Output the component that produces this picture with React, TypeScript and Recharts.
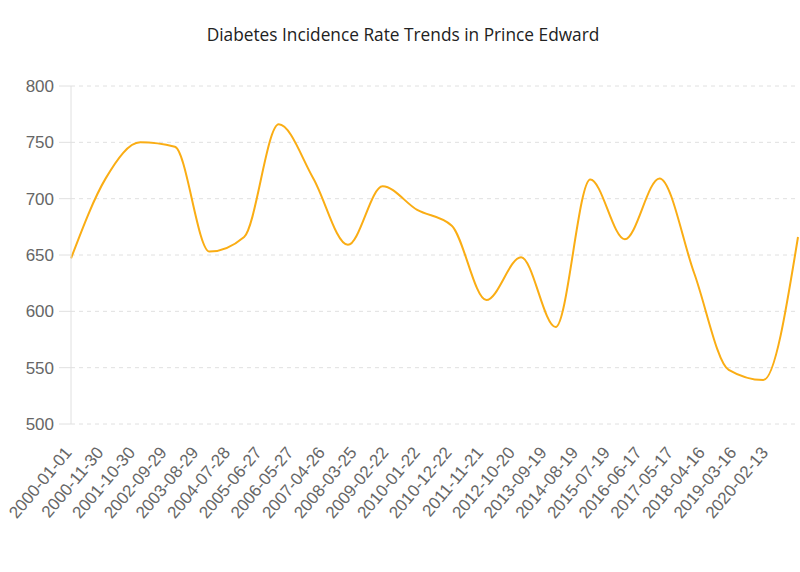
import React from 'react';
import { LineChart, Line, XAxis, YAxis, CartesianGrid } from 'recharts';

// yearly observations
const years = [
    '2000-01-01', '2001-01-01', '2002-01-01', '2003-01-01', '2004-01-01', '2005-01-01',
    '2006-01-01', '2007-01-01', '2008-01-01', '2009-01-01', '2010-01-01', '2011-01-01',
    '2012-01-01', '2013-01-01', '2014-01-01', '2015-01-01', '2016-01-01', '2017-01-01',
    '2018-01-01', '2019-01-01', '2020-01-01', '2021-01-01',
];

const incidence = [
    647, 718, 750, 746, 653, 666, 766, 718, 659, 711, 690,
    676, 610, 648, 586, 717, 664, 718, 634, 548, 539, 666,
];

// axis labels sit on a fixed 334-day step, not on the data points
const dateTicks = [
    '2000-01-01', '2000-11-30', '2001-10-30', '2002-09-29', '2003-08-29', '2004-07-28',
    '2005-06-27', '2006-05-27', '2007-04-26', '2008-03-25', '2009-02-22', '2010-01-22',
    '2010-12-22', '2011-11-21', '2012-10-20', '2013-09-19', '2014-08-19', '2015-07-19',
    '2016-06-17', '2017-05-17', '2018-04-16', '2019-03-16', '2020-02-13',
];

const rateTicks = [500, 550, 600, 650, 700, 750, 800];

const chartData = years.map((d, i) => ({ time: Date.parse(d), rate: incidence[i] }));
const tickTimes = dateTicks.map((d) => Date.parse(d));

const formatDate = (t: number) => new Date(t).toISOString().slice(0, 10);

const tickFont = '"Liberation Sans", Arial, sans-serif';

const DateTick = ({ x, y, payload }: any) => (
    <text
        x={0}
        y={0}
        transform={`translate(${x + 1.7}, ${y + 29}) rotate(-50)`}
        textAnchor="end"
        fill="#666"
        fontSize={17}
        fontFamily={tickFont}
    >
        {formatDate(payload.value)}
    </text>
);

const App: React.FC = () => {
    return (
        <div style={{ position: 'absolute', left: 0, top: 0, width: 800, height: 572, background: '#fff' }}>
            <div
                style={{
                    position: 'absolute',
                    top: 23,
                    width: 806,
                    textAlign: 'center',
                    fontFamily: '"Open Sans", sans-serif',
                    fontSize: 17.3,
                    color: '#222',
                }}
            >
                Diabetes Incidence Rate Trends in Prince Edward
            </div>
            <LineChart width={800} height={572} data={chartData} margin={{ top: 86, right: 2, bottom: 38, left: 0 }}>
                <CartesianGrid vertical={false} stroke="#e0e0e0" strokeDasharray="4 4" />
                <XAxis
                    dataKey="time"
                    type="number"
                    scale="linear"
                    domain={[tickTimes[0], Date.parse(years[years.length - 1])]}
                    ticks={tickTimes}
                    interval={0}
                    axisLine={false}
                    tickLine={false}
                    tickSize={0}
                    tickMargin={0}
                    height={110}
                    tick={<DateTick />}
                />
                <YAxis
                    domain={[500, 800]}
                    ticks={rateTicks}
                    width={71}
                    tickSize={12}
                    tickMargin={5}
                    axisLine={{ stroke: '#e0e0e0' }}
                    tickLine={{ stroke: '#e0e0e0' }}
                    tick={{ fill: '#666', fontSize: 17, fontFamily: tickFont }}
                />
                <Line
                    type="monotone"
                    dataKey="rate"
                    stroke="#FAAD14"
                    strokeWidth={2}
                    dot={false}
                    isAnimationActive={false}
                />
            </LineChart>
        </div>
    );
};

export default App;
